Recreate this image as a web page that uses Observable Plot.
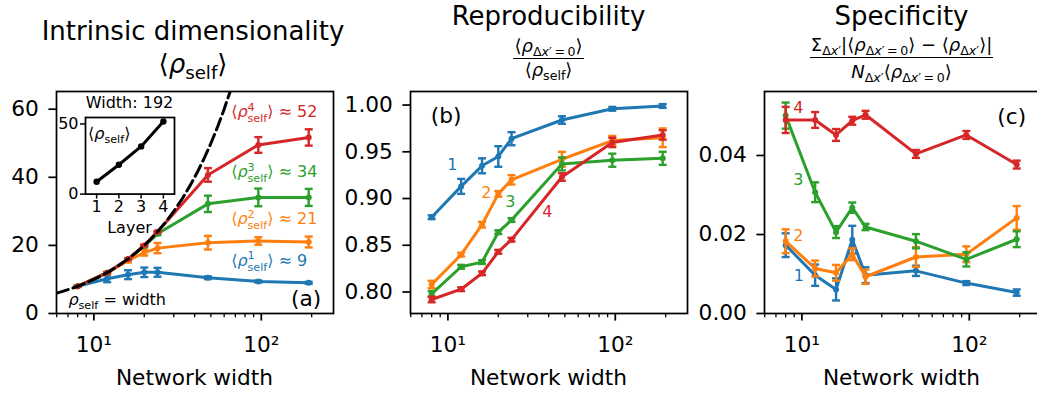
<!DOCTYPE html>
<html>
<head>
<meta charset="utf-8">
<script src="https://cdn.jsdelivr.net/npm/d3@7"></script>
<script src="https://cdn.jsdelivr.net/npm/@observablehq/plot@0.6"></script>
<style>
html, body { margin: 0; padding: 0; background: #fff; }
#fig { position: relative; width: 1037px; height: 396px; overflow: hidden; background: #fff;
  font-family: "DejaVu Sans", sans-serif; color: #000; }
#fig svg { position: absolute; top: 0; }
.lbl { position: absolute; white-space: nowrap; line-height: 1; }
.sb { font-size: 0.7em; vertical-align: -0.33em; line-height: 0; }
.ss { display: inline-block; font-size: 0.7em; line-height: 1; vertical-align: -0.45em; margin: -0.35em 0 -0.25em 0; }
.ss > span { display: block; }
.bar { position: absolute; height: 0; border-top: 1.7px solid #000; }
</style>
</head>
<body>
<div id="fig"></div>
<script>
// ---------------- data ----------------
const widths = [8, 12, 16, 20, 24, 48, 96, 192];
const layers = [1, 2, 3, 4];
const layerColors = ["#1f77b4", "#ff7f0e", "#2ca02c", "#d62728"];

// (a) intrinsic dimensionality <rho_self>
const dimMean1 = [8.0, 10.2, 11.4, 12.1, 12.1, 10.5, 9.4, 9.0];
const dimErr1  = [0.2, 1.0, 1.3, 1.4, 1.3, 0.4, 0.3, 0.3];
const dimMean2 = [8.0, 11.9, 15.5, 17.9, 19.2, 20.8, 21.3, 21.0];
const dimErr2  = [0.1, 0.3, 0.5, 0.9, 1.5, 2.0, 1.1, 1.6];
const dimMean3 = [8.0, 12.0, 16.0, 19.8, 23.4, 32.2, 34.1, 34.1];
const dimErr3  = [0.1, 0.1, 0.2, 0.3, 0.4, 2.4, 2.6, 2.5];
const dimMean4 = [8.0, 12.0, 16.0, 20.0, 24.0, 40.7, 49.5, 51.7];
const dimErr4  = [0.1, 0.1, 0.1, 0.2, 0.3, 2.0, 2.3, 2.4];
const approxDims = [9, 21, 34, 52];
// identity reference rho_self = width (x values; y equals x)
const identityWidths = [6, 6.5, 7, 7.5, 8, 9, 10, 11, 12, 14, 16, 18, 20, 22, 24, 27, 30, 34, 38, 42, 46, 50, 55, 60, 66];

// inset: width 192, <rho_self> per layer
const insetValues = [8.8, 20.9, 34.0, 51.7];

// (b) reproducibility
const rep1 = [0.880, 0.913, 0.935, 0.945, 0.964, 0.984, 0.996, 0.999];
const repErr1 = [0.002, 0.008, 0.008, 0.011, 0.007, 0.004, 0.002, 0.002];
const rep2 = [0.808, 0.840, 0.872, 0.905, 0.920, 0.942, 0.962, 0.965];
const repErr2 = [0.004, 0.002, 0.003, 0.003, 0.005, 0.008, 0.005, 0.010];
const rep3 = [0.798, 0.827, 0.832, 0.864, 0.877, 0.937, 0.941, 0.943];
const repErr3 = [0.003, 0.002, 0.002, 0.002, 0.002, 0.007, 0.007, 0.007];
const rep4 = [0.792, 0.803, 0.820, 0.843, 0.856, 0.923, 0.960, 0.968];
const repErr4 = [0.003, 0.002, 0.002, 0.002, 0.002, 0.004, 0.005, 0.005];

// (c) specificity
const spec1 = [0.0173, 0.0097, 0.0061, 0.0187, 0.0097, 0.0108, 0.0077, 0.0053];
const specErr1 = [0.0030, 0.0027, 0.0028, 0.0035, 0.0020, 0.0013, 0.0005, 0.0008];
const spec2 = [0.0183, 0.0114, 0.0103, 0.0150, 0.0093, 0.0143, 0.0150, 0.0242];
const specErr2 = [0.0030, 0.0020, 0.0020, 0.0015, 0.0018, 0.0025, 0.0020, 0.0030];
const spec3 = [0.0501, 0.0307, 0.0206, 0.0268, 0.0219, 0.0183, 0.0137, 0.0188];
const specErr3 = [0.0033, 0.0025, 0.0015, 0.0013, 0.0008, 0.0018, 0.0018, 0.0020];
const spec4 = [0.0490, 0.0490, 0.0452, 0.0488, 0.0503, 0.0404, 0.0452, 0.0377];
const specErr4 = [0.0033, 0.0020, 0.0015, 0.0010, 0.0010, 0.0010, 0.0010, 0.0010];

// axes ticks
const majorTicks = [10, 100];
const majorTickLabels = ["10\u00b9", "10\u00b2"];
const minorTicks = [6, 7, 8, 9, 20, 30, 40, 50, 60, 70, 80, 90, 200];
const dimTicks = [0, 20, 40, 60];
const repTicks = [0.80, 0.85, 0.90, 0.95, 1.00];
const specTicks = [0.00, 0.02, 0.04];
const insetYTicks = [0, 50];

// ---------------- helpers ----------------
const fig = document.getElementById("fig");
const FS = 21.7;
const rows = (m, e) => widths.map((w, i) => ({width: w, mean: m[i], err: e[i]}));
const capSymbol = {draw(ctx, size) { const r = Math.sqrt(size / Math.PI); ctx.moveTo(-r, 0); ctx.lineTo(r, 0); }};

function seriesMarks(data, color) {
  return [
    Plot.line(data, {x: "width", y: "mean", stroke: color, strokeWidth: 3}),
    Plot.ruleX(data, {x: "width", y1: d => d.mean - d.err, y2: d => d.mean + d.err, stroke: color, strokeWidth: 2.4}),
    Plot.dot(data, {x: "width", y: d => d.mean - d.err, symbol: capSymbol, r: 4, stroke: color, strokeWidth: 2.4}),
    Plot.dot(data, {x: "width", y: d => d.mean + d.err, symbol: capSymbol, r: 4, stroke: color, strokeWidth: 2.4}),
    Plot.dot(data, {x: "width", y: "mean", r: 3, fill: color})
  ];
}

function xAxes() {
  return [
    Plot.axisX({ticks: minorTicks, tickFormat: () => "", tickSize: 4.3, strokeWidth: 1.3, label: null}),
    Plot.axisX({ticks: majorTicks, tickFormat: d => majorTickLabels[majorTicks.indexOf(d)],
      tickSize: 7.6, tickPadding: 15.5, strokeWidth: 1.74, fontSize: FS, label: null})
  ];
}

const xDomain = [5.98, 270];

function makePanel({left, width, marginLeft, yDomain, yTicks, yFormat, seriesList, extra = []}) {
  const marks = [];
  seriesList.forEach((s, i) => marks.push(...seriesMarks(s, layerColors[i])));
  marks.push(...extra);
  marks.push(...xAxes());
  marks.push(Plot.axisY({ticks: yTicks, tickFormat: yFormat, tickSize: 7.6, tickPadding: 10, strokeWidth: 1.74, fontSize: FS, label: null}));
  marks.push(Plot.frame({stroke: "black", strokeWidth: 1.74}));
  const p = Plot.plot({
    width, height: 396, marginLeft, marginRight: width - marginLeft - 277, marginTop: 91, marginBottom: 83,
    x: {type: "log", domain: xDomain},
    y: {domain: yDomain},
    style: {fontFamily: '"DejaVu Sans", sans-serif', fontSize: FS + "px", color: "black", background: "none", overflow: "visible", maxWidth: "none"},
    marks
  });
  p.style.left = left + "px";
  fig.appendChild(p);
  const sx = p.scale("x"), sy = p.scale("y");
  return {X: v => left + sx.apply(v), Y: v => sy.apply(v), cx: left + marginLeft + 277 / 2};
}

function label(html, x, y, {size = 16, color = "#000", anchor = "start"} = {}) {
  const d = document.createElement("div");
  d.className = "lbl";
  d.innerHTML = html;
  d.style.left = x + "px";
  d.style.top = y + "px";
  d.style.fontSize = size + "px";
  d.style.color = color;
  const tx = anchor === "start" ? "0" : anchor === "middle" ? "-50%" : "-100%";
  d.style.transform = `translate(${tx}, -50%)`;
  fig.appendChild(d);
  return d;
}

const rho = "<i>\u03c1</i>";
const sb = s => `<span class="sb">${s}</span>`;
const ss = (a, b) => `<span class="ss"><span>${a}</span><span>${b}</span></span>`;
const dx = "\u0394<i>x</i>\u2032";
const LA = "\u27e8", RA = "\u27e9";

// ---------------- panel (a) ----------------
const dimSeries = [rows(dimMean1, dimErr1), rows(dimMean2, dimErr2), rows(dimMean3, dimErr3), rows(dimMean4, dimErr4)];
const A = makePanel({
  left: 0, width: 337, marginLeft: 56, yDomain: [0, 65.2], yTicks: dimTicks, yFormat: d3.format("d"),
  seriesList: dimSeries,
  extra: [Plot.line(identityWidths, {x: d => d, y: d => d, stroke: "black", strokeWidth: 3, strokeDasharray: "12,5", clip: true})]
});

// inset
const insetRows = layers.map((l, i) => ({layer: l, value: insetValues[i]}));
const inset = Plot.plot({
  width: 129, height: 122, marginLeft: 35, marginRight: 5, marginTop: 5, marginBottom: 40.4,
  x: {domain: [0.5, 4.5]}, y: {domain: [0, 54.6]},
  style: {fontFamily: '"DejaVu Sans", sans-serif', fontSize: "16px", color: "black", background: "none", overflow: "visible", maxWidth: "none"},
  marks: [
    Plot.frame({fill: "white"}),
    Plot.line(insetRows, {x: "layer", y: "value", stroke: "black", strokeWidth: 3}),
    Plot.dot(insetRows, {x: "layer", y: "value", r: 3.2, fill: "black"}),
    Plot.axisX({ticks: layers, tickFormat: d3.format("d"), tickSize: 5, tickPadding: 2, strokeWidth: 1.5, fontSize: 16, label: null}),
    Plot.axisY({ticks: insetYTicks, tickFormat: d3.format("d"), tickSize: 5, tickPadding: 2, strokeWidth: 1.5, fontSize: 16, label: null}),
    Plot.frame({stroke: "black", strokeWidth: 1.74})
  ]
});
inset.style.left = "50px";
inset.style.top = "111.7px";
fig.appendChild(inset);

label("Width: 192", 129.5, 102.5, {anchor: "middle"});
label("Layer", 129.5, 227.5, {anchor: "middle"});
label(`${LA}${rho}${sb("self")}${RA}`, 88, 134);

// curve labels (a)
const dimLabelY = [15.1, 27.3, 41.0, 58.7];
layers.forEach((l, i) => {
  label(`${LA}${rho}${ss(l, "self")}${RA} \u2248 ${approxDims[i]}`, A.X(66.5), A.Y(dimLabelY[i]), {color: layerColors[i]});
});
label(`${rho}${sb("self")} = width`, A.X(7.09), A.Y(3.9));
label("(a)", A.X(186.5), A.Y(4.2), {size: FS, anchor: "middle"});

label("Intrinsic dimensionality", 193, 31, {size: 26, anchor: "middle"});
label(`${LA}${rho}${sb("self")}${RA}`, 193, 64, {size: 26, anchor: "middle"});
label("Network width", A.cx, 378, {size: FS, anchor: "middle"});

// ---------------- panel (b) ----------------
const repSeries = [rows(rep1, repErr1), rows(rep2, repErr2), rows(rep3, repErr3), rows(rep4, repErr4)];
const B = makePanel({
  left: 335, width: 355, marginLeft: 75, yDomain: [0.777, 1.0145], yTicks: repTicks, yFormat: d3.format(".2f"),
  seriesList: repSeries
});
const repLabelPos = [[10.72, 0.9352], [17.07, 0.905], [23.78, 0.896], [39.5, 0.8854]];
layers.forEach((l, i) => label(String(l), B.X(repLabelPos[i][0]), B.Y(repLabelPos[i][1]), {color: layerColors[i], anchor: "middle"}));
label("(b)", B.X(9.83), B.Y(0.9875), {size: FS, anchor: "middle"});
label("Reproducibility", B.cx, 16, {size: 26, anchor: "middle"});
function fraction(num, den, cx, yNum, yBar, yDen) {
  const n = label(num, cx, yNum, {size: 18, anchor: "middle"});
  label(den, cx, yDen, {size: 18, anchor: "middle"});
  const w = n.getBoundingClientRect().width + 2;
  const b = document.createElement("div");
  b.className = "bar";
  b.style.left = (cx - w / 2) + "px";
  b.style.top = yBar + "px";
  b.style.width = w + "px";
  fig.appendChild(b);
}
fraction(`${LA}${rho}${sb(dx + "\u2009=\u20090")}${RA}`, `${LA}${rho}${sb("self")}${RA}`, B.cx, 45.5, 57.5, 70);
label("Network width", B.cx, 378, {size: FS, anchor: "middle"});

// ---------------- panel (c) ----------------
const specSeries = [rows(spec1, specErr1), rows(spec2, specErr2), rows(spec3, specErr3), rows(spec4, specErr4)];
const C = makePanel({
  left: 690, width: 355, marginLeft: 74, yDomain: [0, 0.0562], yTicks: specTicks, yFormat: d3.format(".2f"),
  seriesList: specSeries
});
const specLabelPos = [[9.67, 0.0094], [9.58, 0.0195], [9.58, 0.0337], [9.58, 0.0518]];
layers.forEach((l, i) => label(String(l), C.X(specLabelPos[i][0]), C.Y(specLabelPos[i][1]), {color: layerColors[i], anchor: "middle"}));
label("(c)", C.X(180.4), C.Y(0.0497), {size: FS, anchor: "middle"});
label("Specificity", 901.5, 16, {size: 26, anchor: "middle"});
fraction(`\u03a3${sb(dx)}|${LA}${rho}${sb(dx + "\u2009=\u20090")}${RA} \u2212 ${LA}${rho}${sb(dx)}${RA}|`,
  `<i>N</i>${sb(dx)}${LA}${rho}${sb(dx + "\u2009=\u20090")}${RA}`, 901.5, 45, 56.5, 71.5);
label("Network width", 901.5, 378, {size: FS, anchor: "middle"});
</script>
</body>
</html>
